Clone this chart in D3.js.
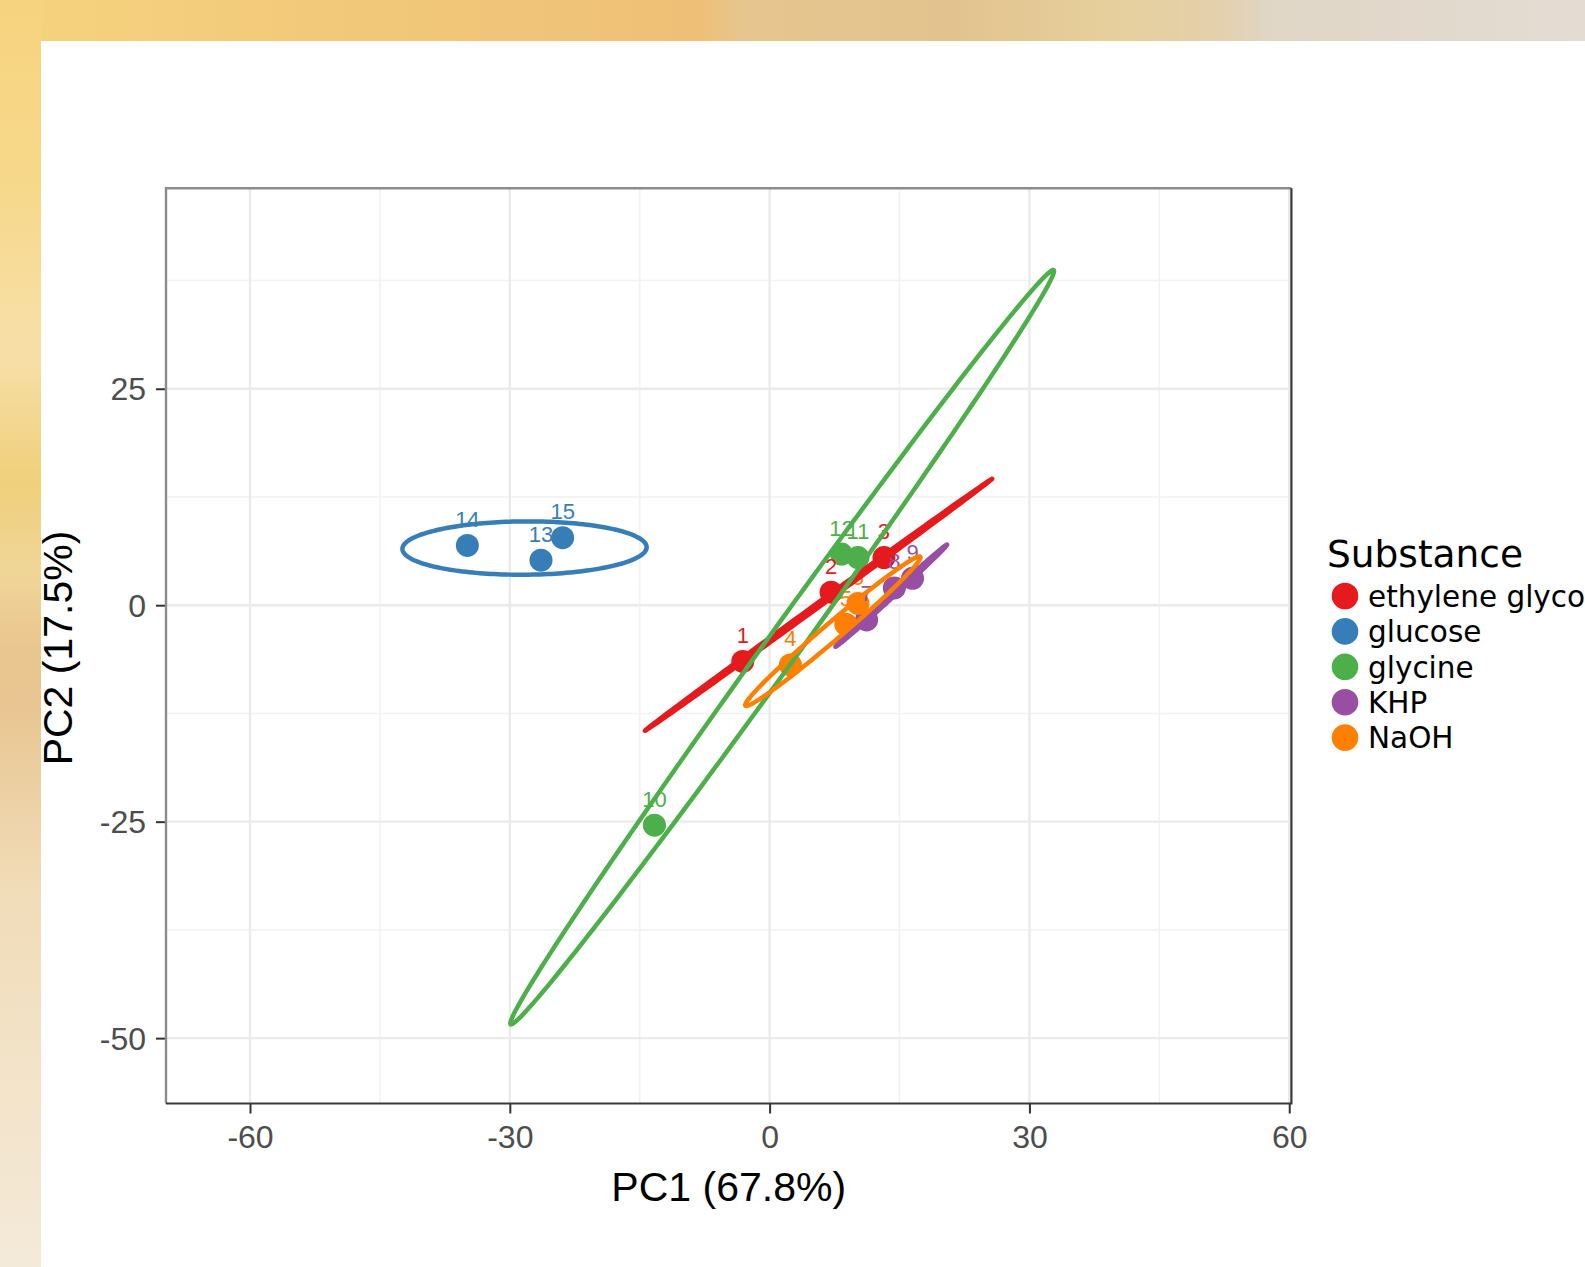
<!DOCTYPE html>
<html><head><meta charset="utf-8">
<script src="https://cdn.jsdelivr.net/npm/d3@7"></script>
<style>html,body{margin:0;padding:0;overflow:hidden;background:#fff}</style>
</head><body>
<svg id="c" width="1585" height="1267"></svg>
<script>
// ---- data ----
const categories = ["ethylene glycol", "glucose", "glycine", "KHP", "NaOH"];
const colors = ["#e41a1c", "#377eb8", "#4daf4a", "#984ea3", "#ff7f00"];
const sampleIds   = [1, 2, 3, 13, 14, 15, 10, 11, 12, 7, 8, 9, 4, 5, 6];
const sampleGroup = [0, 0, 0, 1, 1, 1, 2, 2, 2, 3, 3, 3, 4, 4, 4];
const pc1 = [-3.1, 7.1, 13.2, -26.4, -34.9, -23.9, -13.3, 10.2, 8.3, 11.2, 14.4, 16.5, 2.4, 8.8, 10.2];
const pc2 = [-6.5, 1.5, 5.5, 5.2, 6.9, 7.8, -25.4, 5.5, 5.9, -1.7, 2.0, 3.1, -6.9, -2.2, 0.2];
// ellipse (95% confidence) parameters per group: major-axis end points and semi-minor length, data units
const ellStart = [[-14.4, -14.5], [-42.4, 6.5], [-29.9, -48.4], [7.6, -4.8], [-2.8, -11.6]];
const ellEnd   = [[25.7, 14.6], [-14.2, 6.7], [32.8, 38.7], [20.5, 7.0], [17.4, 5.6]];
const ellMinor = [0.24, 3.08, 1.92, 0.26, 1.0];
const xTicks = [-60, -30, 0, 30, 60];
const yTicks = [-50, -25, 0, 25];
const xMinor = [-45, -15, 15, 45];
const yMinor = [-37.5, -12.5, 12.5, 37.5];
const xTitle = "PC1 (67.8%)", yTitle = "PC2 (17.5%)", legendTitle = "Substance";

// ---- layout ----
const svg = d3.select("#c");
const L = 166, R = 1291.4, T = 188.3, B = 1103.5;
const x = d3.scaleLinear().domain([-69.7, 60.25]).range([L, R]);
const y = d3.scaleLinear().domain([-57.55, 48.15]).range([B, T]);

// background (screenshot frame)
const defs = svg.append("defs");
const gTop = defs.append("linearGradient").attr("id", "gt").attr("x1", 0).attr("x2", 1).attr("y1", 0).attr("y2", 0);
[[0, "#f6d37e"], [0.2, "#f2c97a"], [0.44, "#eec077"], [0.47, "#e6c58e"], [0.6, "#e2c38f"], [0.7, "#e6cf9c"], [0.77, "#e4d0ac"], [0.8, "#e0d6c6"], [1, "#e4dcd3"]]
  .forEach(s => gTop.append("stop").attr("offset", s[0]).attr("stop-color", s[1]));
const gLeft = defs.append("linearGradient").attr("id", "gl").attr("x1", 0).attr("x2", 0).attr("y1", 0).attr("y2", 1);
[[0, "#f6d37e"], [0.15, "#f7d98c"], [0.28, "#f7dfa8"], [0.38, "#efd07a"], [0.45, "#f0d598"], [0.52, "#e8c48e"], [0.56, "#e9c692"], [0.7, "#f1dcb8"], [1, "#f4ead9"]]
  .forEach(s => gLeft.append("stop").attr("offset", s[0]).attr("stop-color", s[1]));
svg.append("rect").attr("x", 0).attr("y", 0).attr("width", 1585).attr("height", 41).attr("fill", "url(#gt)");
svg.append("rect").attr("x", 0).attr("y", 0).attr("width", 41).attr("height", 1267).attr("fill", "url(#gl)");

// grid
const grid = svg.append("g");
grid.selectAll(".gxm").data(xMinor).join("line").attr("x1", d => x(d)).attr("x2", d => x(d)).attr("y1", T).attr("y2", B).attr("stroke", "#f2f2f2").attr("stroke-width", 1.6);
grid.selectAll(".gym").data(yMinor).join("line").attr("y1", d => y(d)).attr("y2", d => y(d)).attr("x1", L).attr("x2", R).attr("stroke", "#f2f2f2").attr("stroke-width", 1.6);
grid.selectAll(".gx").data(xTicks).join("line").attr("x1", d => x(d)).attr("x2", d => x(d)).attr("y1", T).attr("y2", B).attr("stroke", "#ebebeb").attr("stroke-width", 2.4);
grid.selectAll(".gy").data(yTicks).join("line").attr("y1", d => y(d)).attr("y2", d => y(d)).attr("x1", L).attr("x2", R).attr("stroke", "#ebebeb").attr("stroke-width", 2.4);

// axes
const font = "'Liberation Sans', Arial, Helvetica, sans-serif";
const fmt = d => String(d);
const ax = svg.append("g").attr("transform", `translate(0,${B})`)
  .call(d3.axisBottom(x).tickValues(xTicks).tickSize(10).tickPadding(13).tickFormat(fmt));
const ay = svg.append("g").attr("transform", `translate(${L},0)`)
  .call(d3.axisLeft(y).tickValues(yTicks).tickSize(10).tickPadding(10).tickFormat(fmt));
[ax, ay].forEach(g => {
  g.select(".domain").remove();
  g.selectAll(".tick line").attr("stroke", "#333").attr("stroke-width", 2);
  g.selectAll(".tick text").attr("fill", "#4d4d4d").attr("font-size", 32).attr("font-family", font);
});
ax.selectAll(".tick text").attr("dy", "0.68em");
ay.selectAll(".tick text").attr("dy", "0.35em");

// panel border
svg.append("path").attr("d", `M${L},${B}V${T}H${R}`).attr("fill", "none").attr("stroke", "#8c8c8c").attr("stroke-width", 2.4);
svg.append("path").attr("d", `M${L},${B}H${R}V${T}`).attr("fill", "none").attr("stroke", "#3a3a3a").attr("stroke-width", 2.2);

// points
const idx = d3.range(sampleIds.length);
const plot = svg.append("g");
plot.selectAll("circle").data(idx).join("circle")
  .attr("cx", i => x(pc1[i])).attr("cy", i => y(pc2[i])).attr("r", 11.5)
  .attr("fill", i => colors[sampleGroup[i]]);
// labels
plot.selectAll("text").data(idx).join("text")
  .attr("x", i => x(pc1[i])).attr("y", i => y(pc2[i]) - 18.5)
  .attr("text-anchor", "middle").attr("font-family", font).attr("font-size", 22)
  .attr("fill", i => colors[sampleGroup[i]]).text(i => sampleIds[i]);

// ellipses
function ellipse(g) {
  const p1 = ellStart[g], p2 = ellEnd[g];
  const cx = (p1[0] + p2[0]) / 2, cy = (p1[1] + p2[1]) / 2;
  const ax_ = (p2[0] - p1[0]) / 2, ay_ = (p2[1] - p1[1]) / 2;
  const len = Math.hypot(ax_, ay_);
  const bx = -ay_ / len * ellMinor[g], by = ax_ / len * ellMinor[g];
  return d3.range(0, 200).map(k => {
    const t = k / 200 * 2 * Math.PI;
    return [cx + Math.cos(t) * ax_ + Math.sin(t) * bx, cy + Math.cos(t) * ay_ + Math.sin(t) * by];
  });
}
const line = d3.line().x(d => x(d[0])).y(d => y(d[1])).curve(d3.curveLinearClosed);
svg.append("g").selectAll("path").data(d3.range(categories.length)).join("path")
  .attr("d", g => line(ellipse(g))).attr("fill", "none")
  .attr("stroke", g => colors[g]).attr("stroke-width", 4.5).attr("stroke-linejoin", "round");

// axis titles
svg.append("text").attr("x", (L + R) / 2).attr("y", 1201).attr("text-anchor", "middle")
  .attr("font-family", font).attr("font-size", 41).attr("fill", "#000").text(xTitle);
svg.append("text").attr("transform", `translate(72,648) rotate(-90)`).attr("text-anchor", "middle")
  .attr("font-family", font).attr("font-size", 41).attr("fill", "#000").text(yTitle);

// legend
const lf = "'DejaVu Sans', Verdana, sans-serif";
const lg = svg.append("g");
lg.append("text").attr("x", 1327).attr("y", 566.5).attr("font-family", lf).attr("font-size", 37.5).attr("fill", "#000").text(legendTitle);
const items = lg.selectAll("g.it").data(d3.range(categories.length)).join("g").attr("class", "it")
  .attr("transform", g => `translate(0,${596 + g * 35.4})`);
items.append("circle").attr("cx", 1345).attr("cy", 0).attr("r", 13.3).attr("fill", g => colors[g]);
items.append("text").attr("x", 1368).attr("y", 10.8).attr("font-family", lf).attr("font-size", 29.5).attr("fill", "#000").text(g => categories[g]);
</script>
</body></html>
